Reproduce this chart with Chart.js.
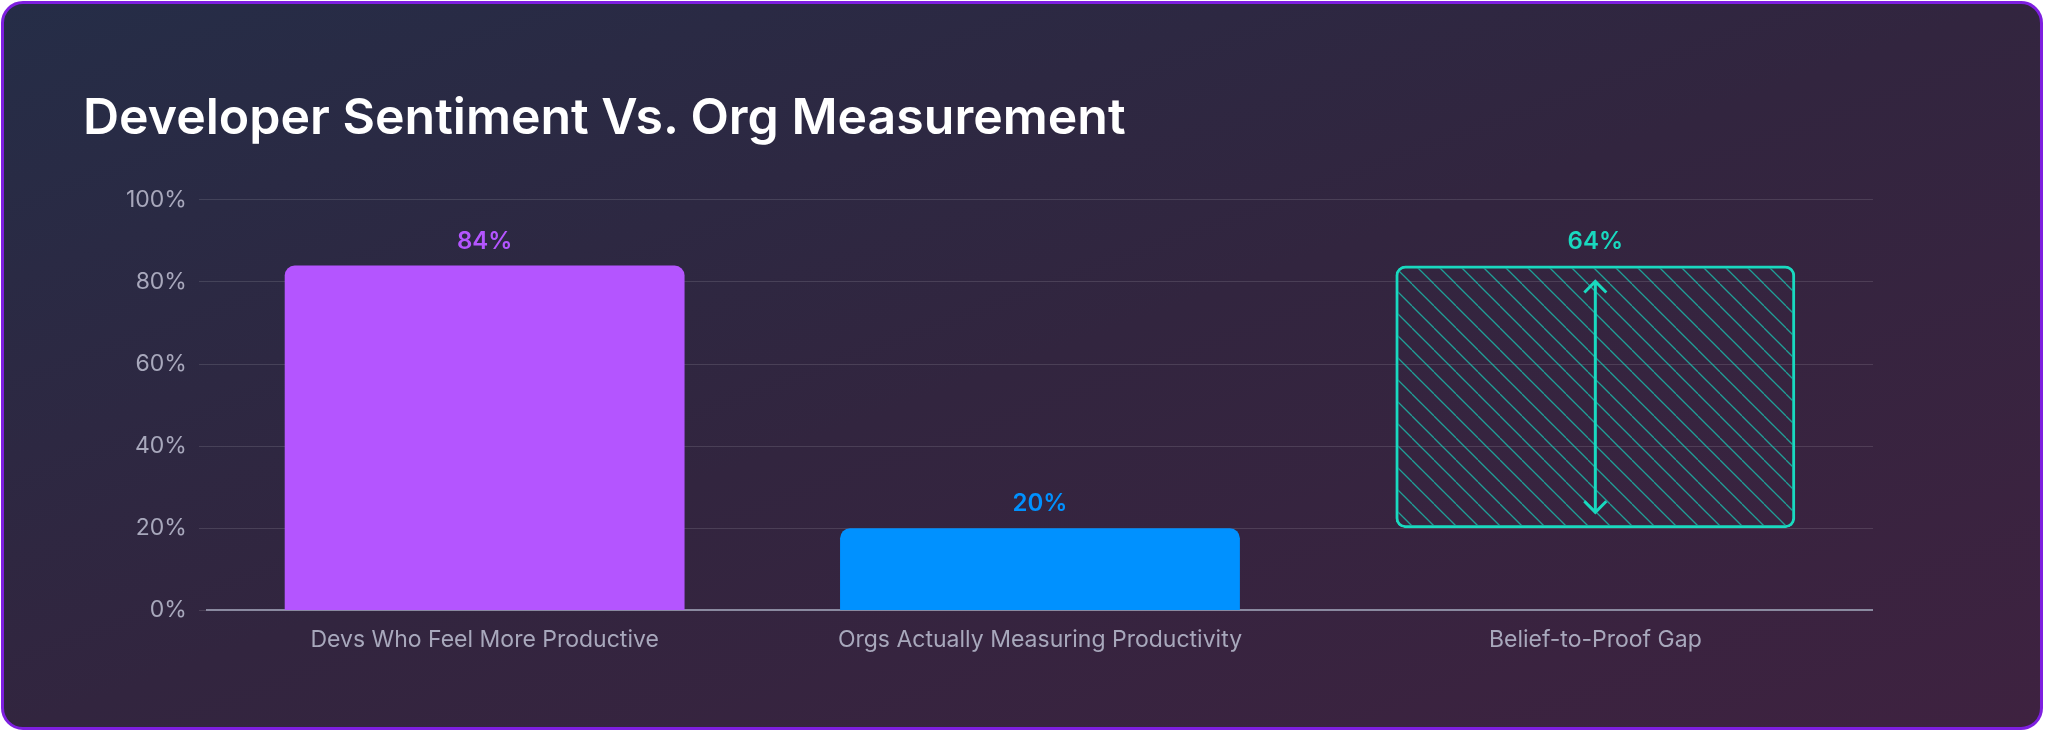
<!DOCTYPE html>
<html>
<head>
<meta charset="utf-8">
<script src="https://cdn.jsdelivr.net/npm/chart.js@4.4.0/dist/chart.umd.min.js"></script>
<style>
  html, body { margin: 0; padding: 0; background: #fff; }
  .card {
    position: absolute; left: 1px; top: 1px; width: 2042px; height: 729px;
    border: 3px solid #7e1fe0; border-radius: 22px; box-sizing: border-box;
    background: linear-gradient(160deg, #252d47 0%, #32253f 50%, #3e2240 100%);
    overflow: hidden;
  }
  h1 {
    position: absolute; left: 79px; top: 82px; margin: 0;
    font-family: Inter, sans-serif; font-weight: 600; font-size: 50px; color: #fff;
  }
  .wrap { position: absolute; left: 110px; top: 170px; width: 1759px; height: 488px; }
</style>
</head>
<body>
<div class="card">
  <h1>Developer Sentiment Vs. Org Measurement</h1>
  <div class="wrap"><canvas id="c"></canvas></div>
</div>
<script>
const categories = ['Devs Who Feel More Productive', 'Orgs Actually Measuring Productivity', 'Belief-to-Proof Gap'];
const barValues = [[0, 84], [0, 20], [20, 84]];
const valueLabels = ['84%', '20%', '64%'];
const colors = ['#b455ff', '#0091ff', '#19d9bf'];
const yTicks = [0, 20, 40, 60, 80, 100];

function hatch() {
  const c = document.createElement('canvas');
  c.width = 22; c.height = 22;
  const g = c.getContext('2d');
  g.strokeStyle = 'rgba(25,200,180,0.75)';
  g.lineWidth = 1.3;
  for (const o of [-22, 0, 22]) {
    g.beginPath(); g.moveTo(o, 0); g.lineTo(o + 22, 22); g.stroke();
  }
  return g.createPattern(c, 'repeat');
}

const labelPlugin = {
  id: 'labels',
  afterDatasetsDraw(chart) {
    const ctx = chart.ctx;
    const meta = chart.getDatasetMeta(0);
    const y = chart.scales.y;
    ctx.save();
    ctx.font = '600 24px Inter, sans-serif';
    ctx.textAlign = 'center';
    ctx.textBaseline = 'bottom';
    meta.data.forEach((bar, i) => {
      ctx.fillStyle = colors[i];
      ctx.fillText(valueLabels[i], bar.x, y.getPixelForValue(barValues[i][1]) - 12);
    });
    // gap arrow
    const b = meta.data[2];
    const top = y.getPixelForValue(barValues[2][1]) + 16;
    const bot = y.getPixelForValue(barValues[2][0]) - 16;
    ctx.strokeStyle = colors[2];
    ctx.lineWidth = 3;
    ctx.beginPath();
    ctx.moveTo(b.x, top); ctx.lineTo(b.x, bot);
    ctx.moveTo(b.x - 11, top + 11); ctx.lineTo(b.x, top); ctx.lineTo(b.x + 11, top + 11);
    ctx.moveTo(b.x - 11, bot - 11); ctx.lineTo(b.x, bot); ctx.lineTo(b.x + 11, bot - 11);
    ctx.stroke();
    ctx.restore();
  }
};

new Chart(document.getElementById('c'), {
  type: 'bar',
  data: {
    labels: categories,
    datasets: [{
      data: barValues,
      backgroundColor: [colors[0], colors[1], hatch()],
      borderColor: [colors[0], colors[1], colors[2]],
      borderWidth: [0, 0, 3],
      borderRadius: 10,
      borderSkipped: [ 'bottom', 'bottom', false ],
      categoryPercentage: 1,
      barPercentage: 0.72
    }]
  },
  options: {
    responsive: true,
    maintainAspectRatio: false,
    animation: false,
    plugins: { legend: { display: false }, tooltip: { enabled: false } },
    scales: {
      x: {
        grid: { display: false },
        border: { color: '#8a8aa0', width: 2 },
        ticks: { color: '#a8a8bc', font: { family: 'Inter, sans-serif', size: 23 }, padding: 8 }
      },
      y: {
        min: 0, max: 100,
        afterBuildTicks: s => { s.ticks = yTicks.map(v => ({ value: v })); },
        grid: { color: 'rgba(255,255,255,0.12)', lineWidth: 1 },
        border: { display: false },
        ticks: { color: '#a8a8bc', font: { family: 'Inter, sans-serif', size: 23 }, padding: 12, callback: v => v + '%' }
      }
    }
  },
  plugins: [labelPlugin]
});
</script>
</body>
</html>
